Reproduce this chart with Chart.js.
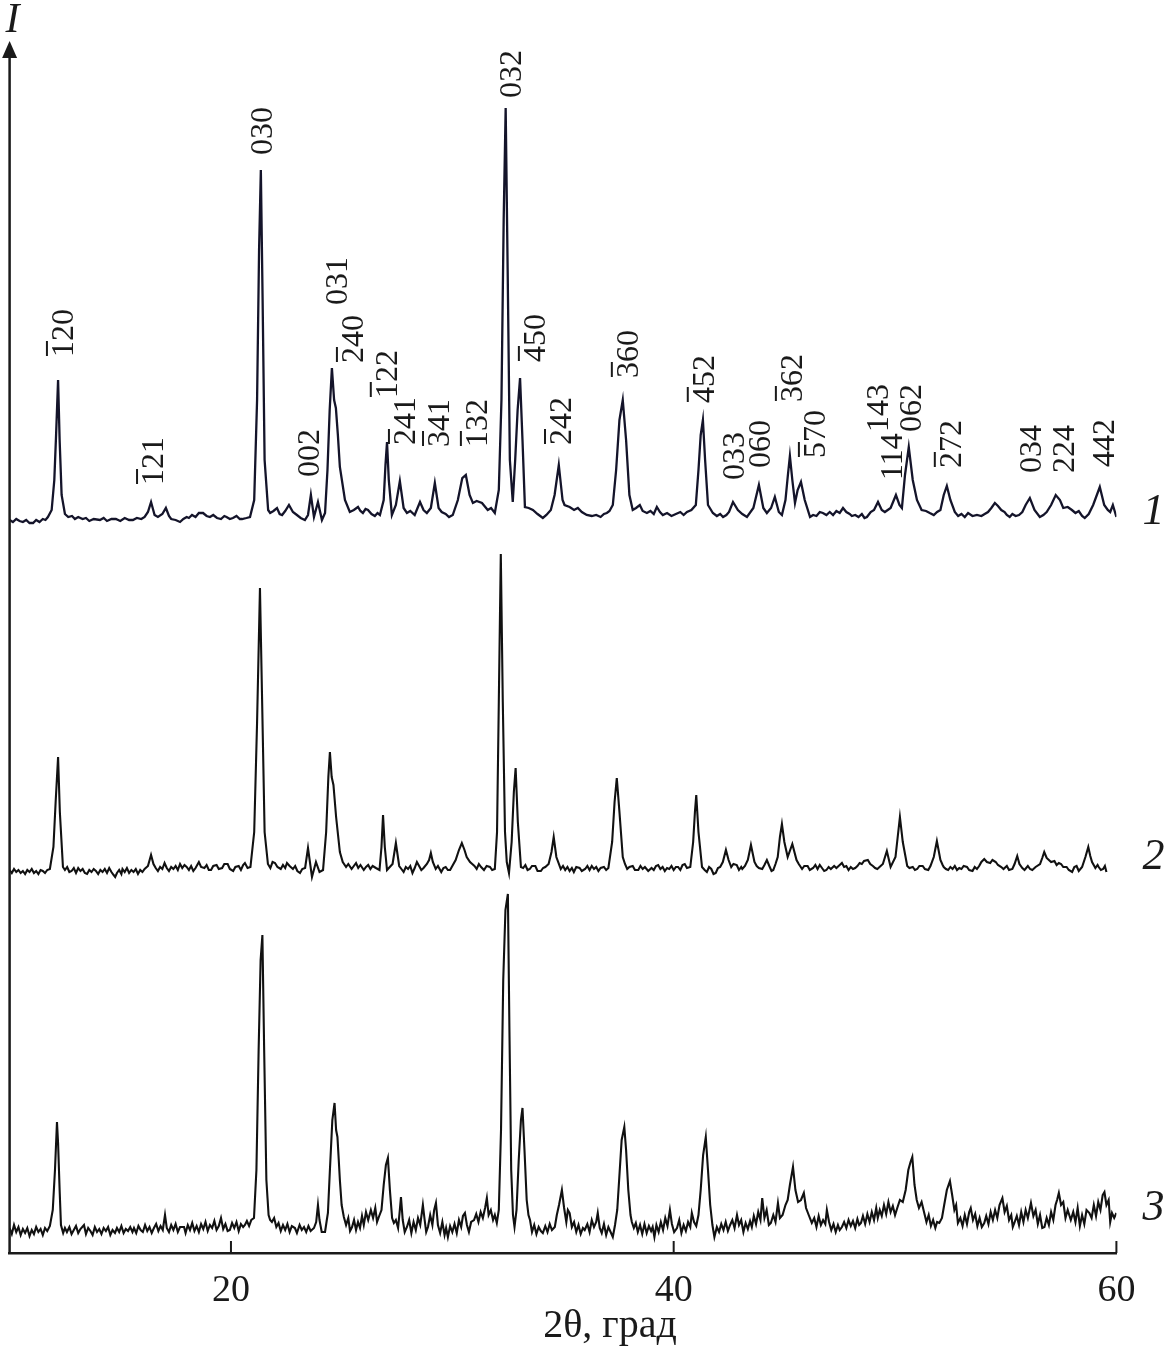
<!DOCTYPE html>
<html>
<head>
<meta charset="utf-8">
<script src="https://cdn.jsdelivr.net/npm/chart.js@4.4.1/dist/chart.umd.min.js"></script>
<style>
    html, body { margin: 0; padding: 0; background: #ffffff; }
    #caixa { width: 1170px; height: 1359px; position: relative; }
</style>
</head>
<body>
<div id="caixa"><canvas id="grafico"></canvas></div>
<script>

// eixo 2θ
const marcasX = [20, 40, 60];

// curva 1, [2θ, I]
const curva1 = [
    [10.00, 0], [10.15, -2], [10.3, 1], [10.45, -1], [10.6, -2], [10.75, 0], [10.9, -3], [11.06, -3], [11.2, 0], [11.35, -2],
    [11.5, 1], [11.62, 0], [11.73, 3], [11.90, 10], [12.02, 40], [12.10, 85], [12.19, 140], [12.26, 80], [12.35, 25], [12.50, 6],
    [12.65, 3], [12.82, 4], [12.95, 1], [13.1, 3], [13.3, 1], [13.45, 2], [13.6, -1], [13.8, 1], [14.08, 0], [14.25, 2],
    [14.4, -1], [14.6, 1], [14.8, 1], [15.0, -1], [15.2, 2], [15.4, 0], [15.57, 0], [15.75, 2], [15.95, 1], [16.1, 3],
    [16.25, 8], [16.39, 18], [16.55, 5], [16.70, 3], [16.9, 6], [17.06, 12], [17.2, 4], [17.3, 1], [17.5, 0], [17.70, -2],
    [17.85, 1], [18.0, 3], [18.1, 2], [18.24, 5], [18.4, 3], [18.55, 7], [18.74, 7], [18.9, 4], [19.05, 3], [19.2, 5],
    [19.37, 2], [19.55, 1], [19.7, 4], [19.8, 3], [19.95, 1], [20.09, 2], [20.25, 4], [20.4, 1], [20.5, 1], [20.7, 2],
    [20.86, 3], [21.05, 20], [21.18, 120], [21.27, 270], [21.35, 350], [21.43, 220], [21.52, 60], [21.68, 10], [21.77, 7], [21.92, 9],
    [22.08, 12], [22.2, 6], [22.31, 5], [22.45, 9], [22.62, 15], [22.8, 8], [22.98, 5], [23.15, 2], [23.34, 0], [23.48, 5],
    [23.61, 25], [23.75, 3], [23.93, 18], [24.11, 0], [24.25, 7], [24.36, 50], [24.46, 110], [24.56, 152], [24.66, 120], [24.74, 112],
    [24.83, 85], [24.92, 53], [25.15, 20], [25.37, 8], [25.55, 10], [25.74, 13], [25.85, 9], [25.96, 7], [26.08, 11], [26.19, 10],
    [26.35, 6], [26.5, 4], [26.62, 7], [26.73, 5], [26.90, 20], [26.98, 55], [27.05, 78], [27.13, 40], [27.27, 5], [27.45, 15],
    [27.63, 39], [27.80, 12], [27.95, 7], [28.1, 9], [28.3, 5], [28.54, 18], [28.7, 10], [28.85, 7], [29.03, 12], [29.21, 37],
    [29.38, 12], [29.52, 8], [29.7, 6], [29.85, 3], [30.02, 5], [30.25, 20], [30.45, 42], [30.61, 45], [30.78, 25], [30.93, 17],
    [31.1, 19], [31.34, 17], [31.6, 10], [31.75, 12], [31.92, 7], [32.10, 30], [32.22, 120], [32.32, 300], [32.41, 412], [32.50, 250],
    [32.60, 60], [32.73, 18], [32.84, 60], [32.95, 110], [33.06, 142], [33.17, 80], [33.28, 13], [33.45, 12], [33.64, 10], [33.85, 6],
    [34.09, 2], [34.25, 5], [34.45, 10], [34.62, 25], [34.81, 55], [34.98, 20], [35.07, 15], [35.30, 13], [35.5, 10], [35.67, 12],
    [35.85, 8], [36.07, 5], [36.3, 4], [36.5, 5], [36.7, 3], [36.85, 6], [36.98, 7], [37.1, 9], [37.25, 15], [37.40, 50],
    [37.55, 100], [37.70, 120], [37.85, 80], [38.00, 25], [38.15, 10], [38.3, 12], [38.47, 15], [38.6, 9], [38.79, 7], [38.95, 9],
    [39.1, 6], [39.24, 13], [39.38, 8], [39.51, 5], [39.7, 7], [39.9, 4], [40.1, 6], [40.3, 8], [40.45, 5], [40.60, 8],
    [40.8, 10], [41.00, 15], [41.12, 50], [41.22, 85], [41.32, 100], [41.42, 60], [41.55, 15], [41.77, 7], [41.95, 4], [42.1, 6],
    [42.23, 3], [42.38, 5], [42.5, 8], [42.68, 18], [42.9, 10], [43.1, 6], [43.31, 3], [43.6, 12], [43.85, 35], [44.05, 12],
    [44.21, 7], [44.4, 12], [44.57, 23], [44.75, 8], [44.89, 5], [45.05, 20], [45.16, 45], [45.25, 64], [45.36, 40], [45.48, 17],
    [45.60, 30], [45.75, 38], [45.92, 20], [46.16, 3], [46.3, 5], [46.45, 4], [46.6, 8], [46.74, 7], [46.9, 5], [47.05, 8],
    [47.2, 5], [47.35, 9], [47.5, 7], [47.65, 12], [47.8, 8], [47.95, 6], [48.05, 4], [48.2, 5], [48.35, 3], [48.5, 6],
    [48.62, 2], [48.73, 3], [48.9, 8], [49.05, 10], [49.23, 18], [49.4, 10], [49.54, 8], [49.8, 12], [50.04, 25], [50.20, 15],
    [50.31, 12], [50.45, 45], [50.62, 73], [50.80, 40], [50.99, 20], [51.2, 10], [51.4, 9], [51.57, 7], [51.75, 5], [51.9, 8],
    [52.05, 10], [52.20, 25], [52.34, 34], [52.50, 20], [52.70, 8], [52.85, 4], [53.0, 6], [53.15, 3], [53.3, 7], [53.5, 4],
    [53.70, 5], [53.9, 4], [54.05, 6], [54.2, 8], [54.35, 12], [54.51, 17], [54.65, 14], [54.8, 10], [54.95, 8], [55.05, 5],
    [55.18, 3], [55.3, 6], [55.45, 4], [55.6, 5], [55.75, 8], [55.90, 15], [56.09, 22], [56.30, 10], [56.54, 3], [56.7, 5],
    [56.85, 8], [57.05, 15], [57.26, 25], [57.45, 20], [57.6, 12], [57.8, 13], [57.99, 10], [58.15, 7], [58.3, 9], [58.45, 4],
    [58.57, 2], [58.75, 6], [58.95, 15], [59.25, 33], [59.45, 15], [59.61, 10], [59.72, 8], [59.84, 15], [60.0, 3]
];

// curva 2
const curva2 = [
    [10.0, 2], [10.1, -1], [10.2, 3], [10.3, 0], [10.4, 2], [10.5, -1], [10.6, 1], [10.7, -2], [10.8, 2], [10.9, 0],
    [11.0, 3], [11.1, -1], [11.2, 1], [11.3, -2], [11.4, 2], [11.5, 1], [11.6, -1], [11.7, 2], [11.82, 3], [11.98, 25],
    [12.08, 70], [12.19, 115], [12.27, 60], [12.41, 5], [12.5, 2], [12.6, 5], [12.7, 0], [12.8, 1], [12.9, 4], [13.0, -1],
    [13.1, 4], [13.2, 1], [13.3, 3], [13.4, -1], [13.5, -2], [13.6, 2], [13.7, 0], [13.8, 3], [13.9, 1], [14.0, -2],
    [14.1, 2], [14.2, 0], [14.3, 3], [14.4, -1], [14.5, 4], [14.6, 0], [14.7, -3], [14.77, -5], [14.85, -1], [14.95, 2],
    [15.05, -2], [15.1, 3], [15.2, 0], [15.3, 4], [15.4, -1], [15.5, 2], [15.6, 0], [15.7, 3], [15.8, -2], [15.9, 2],
    [16.0, 0], [16.1, 3], [16.25, 6], [16.39, 17], [16.5, 8], [16.6, 4], [16.7, 1], [16.8, 5], [16.9, 3], [17.0, 9],
    [17.1, 4], [17.2, 1], [17.3, 5], [17.4, 3], [17.5, 6], [17.6, 2], [17.7, 8], [17.8, 4], [17.9, 7], [18.0, 5],
    [18.1, 2], [18.2, 6], [18.3, 1], [18.4, 4], [18.55, 10], [18.65, 5], [18.8, 4], [18.9, 7], [19.0, 2], [19.1, 2],
    [19.2, 6], [19.35, 7], [19.45, 3], [19.6, 4], [19.7, 8], [19.85, 8], [19.95, 3], [20.1, 1], [20.2, 5], [20.35, 6],
    [20.45, 2], [20.55, 7], [20.63, 9], [20.75, 4], [20.88, 5], [21.05, 40], [21.18, 150], [21.31, 284], [21.40, 180], [21.52, 40],
    [21.67, 8], [21.78, 4], [21.88, 10], [21.99, 9], [22.1, 5], [22.25, 3], [22.35, 7], [22.45, 4], [22.53, 9], [22.65, 6],
    [22.8, 3], [22.9, 6], [23.0, 1], [23.12, -1], [23.22, 3], [23.35, 4], [23.48, 24], [23.66, -5], [23.84, 10], [24.0, 0],
    [24.16, 2], [24.30, 40], [24.40, 95], [24.47, 120], [24.55, 95], [24.63, 87], [24.75, 55], [24.92, 20], [25.05, 10], [25.2, 5],
    [25.3, 8], [25.45, 3], [25.55, 6], [25.65, 9], [25.75, 4], [25.85, 7], [26.0, 2], [26.1, 5], [26.2, 7], [26.3, 3],
    [26.4, 6], [26.55, 4], [26.71, 2], [26.80, 25], [26.87, 57], [26.95, 25], [27.05, 2], [27.30, 8], [27.45, 29], [27.60, 6],
    [27.7, 3], [27.8, 0], [27.9, 5], [28.0, 3], [28.1, 6], [28.2, -1], [28.3, 4], [28.40, 10], [28.5, 6], [28.6, 2],
    [28.7, 4], [28.85, 8], [28.95, 12], [29.03, 19], [29.12, 10], [29.25, 3], [29.35, 6], [29.5, 0], [29.6, 4], [29.7, 5],
    [29.8, 2], [29.9, 2], [30.0, 6], [30.15, 12], [30.3, 22], [30.43, 29], [30.55, 22], [30.65, 15], [30.8, 10], [30.9, 8],
    [31.0, 6], [31.1, 3], [31.2, 8], [31.3, 5], [31.43, 2], [31.55, 6], [31.7, 5], [31.8, 2], [31.92, 3], [32.02, 40],
    [32.10, 170], [32.19, 318], [32.28, 170], [32.38, 40], [32.46, 10], [32.56, -1], [32.68, 30], [32.78, 80], [32.86, 104], [32.96, 50],
    [33.10, 5], [33.2, 4], [33.3, 7], [33.4, 2], [33.5, 3], [33.6, 6], [33.75, 6], [33.85, 1], [34.0, 1], [34.1, 4],
    [34.2, 5], [34.35, 8], [34.48, 20], [34.58, 35], [34.70, 15], [34.9, 3], [35.0, 6], [35.1, 2], [35.2, 5], [35.3, 1],
    [35.4, 4], [35.49, 0], [35.6, 5], [35.75, 4], [35.85, 1], [36.0, 3], [36.1, 6], [36.2, 2], [36.3, 6], [36.4, 3],
    [36.5, 5], [36.6, 1], [36.7, 4], [36.85, 5], [36.95, 2], [37.05, 4], [37.22, 30], [37.33, 70], [37.43, 94], [37.55, 60],
    [37.70, 15], [37.8, 8], [37.9, 3], [38.0, 5], [38.15, 6], [38.25, 2], [38.4, 2], [38.5, 6], [38.6, 3], [38.7, 5],
    [38.85, 1], [39.0, 4], [39.1, 2], [39.2, 6], [39.3, 7], [39.4, 3], [39.5, 5], [39.6, 1], [39.7, 4], [39.8, 3],
    [39.9, 6], [40.0, 2], [40.1, 5], [40.2, 5], [40.3, 2], [40.4, 7], [40.5, 8], [40.6, 4], [40.75, 5], [40.88, 30],
    [40.96, 60], [41.02, 77], [41.12, 40], [41.28, 5], [41.4, 2], [41.5, 0], [41.6, 5], [41.7, 3], [41.8, -2], [41.9, -1],
    [42.0, 4], [42.1, 5], [42.22, 10], [42.36, 22], [42.48, 12], [42.6, 5], [42.7, 8], [42.85, 7], [42.95, 2], [43.05, 5],
    [43.1, 3], [43.22, 6], [43.35, 12], [43.49, 27], [43.65, 10], [43.75, 6], [43.85, 4], [44.0, 3], [44.1, 7], [44.21, 12],
    [44.32, 6], [44.42, 1], [44.5, 2], [44.6, 8], [44.70, 15], [44.80, 35], [44.89, 48], [45.0, 30], [45.15, 15], [45.36, 28],
    [45.55, 12], [45.65, 8], [45.8, 3], [45.9, 6], [46.05, 6], [46.15, 2], [46.3, 4], [46.4, 7], [46.5, 3], [46.6, 7],
    [46.7, 4], [46.8, 1], [46.9, 2], [47.0, 5], [47.1, 3], [47.25, 6], [47.35, 4], [47.5, 7], [47.60, 9], [47.7, 5],
    [47.8, 6], [47.9, 2], [48.0, 5], [48.1, 3], [48.2, 4], [48.3, 6], [48.4, 9], [48.5, 8], [48.6, 11], [48.77, 12],
    [48.88, 8], [49.0, 6], [49.1, 4], [49.2, 3], [49.3, 5], [49.45, 8], [49.63, 21], [49.8, 5], [50.02, 15], [50.12, 35],
    [50.22, 55], [50.35, 30], [50.55, 6], [50.65, 4], [50.8, 5], [50.9, 2], [51.0, 3], [51.1, 6], [51.25, 6], [51.35, 3],
    [51.5, 2], [51.6, 6], [51.75, 15], [51.89, 31], [52.05, 12], [52.15, 7], [52.2, 5], [52.3, 3], [52.4, 2], [52.5, 5],
    [52.6, 3], [52.7, 6], [52.8, 2], [52.9, 4], [53.0, 3], [53.1, 6], [53.25, 5], [53.35, 2], [53.5, 1], [53.6, 5],
    [53.7, 3], [53.8, 6], [53.9, 10], [54.03, 13], [54.15, 10], [54.3, 9], [54.4, 12], [54.55, 10], [54.65, 7], [54.8, 5],
    [54.9, 3], [55.05, 6], [55.15, 2], [55.3, 3], [55.4, 8], [55.52, 16], [55.62, 8], [55.75, 4], [55.85, 2], [56.0, 6],
    [56.1, 3], [56.2, 2], [56.35, 5], [56.55, 8], [56.65, 14], [56.74, 20], [56.85, 14], [56.95, 12], [57.05, 10], [57.2, 11],
    [57.3, 7], [57.4, 9], [57.5, 8], [57.6, 5], [57.75, 5], [57.85, 2], [58.0, 0], [58.1, 5], [58.2, 6], [58.3, 1],
    [58.45, 5], [58.60, 15], [58.73, 25], [58.82, 16], [58.90, 10], [59.0, 6], [59.05, 4], [59.15, 7], [59.2, 5], [59.3, 2],
    [59.4, 3], [59.48, 6], [59.55, 0]
];

// curva 3
const curva3 = [
    [10.0, 2], [10.1, -4], [10.2, 5], [10.3, -2], [10.4, 3], [10.5, -5], [10.6, 1], [10.7, -3], [10.8, 2], [10.9, -6],
    [11.0, 0], [11.1, -4], [11.2, 3], [11.3, -2], [11.4, 1], [11.5, -5], [11.6, 2], [11.7, -1], [11.82, 4], [11.95, 20],
    [12.05, 60], [12.14, 108], [12.19, 87], [12.26, 40], [12.32, 5], [12.42, -3], [12.5, 2], [12.59, -2], [12.7, 3], [12.8, -4],
    [12.9, 0], [13.0, 4], [13.1, -3], [13.2, 1], [13.36, 5], [13.45, -4], [13.55, 2], [13.65, -1], [13.75, -5], [13.85, 3],
    [13.95, -2], [14.05, 1], [14.15, -4], [14.25, 2], [14.35, -1], [14.45, 3], [14.55, -5], [14.65, 0], [14.76, -3], [14.85, 2],
    [14.95, -2], [15.05, 4], [15.15, -3], [15.25, 1], [15.35, -1], [15.45, 3], [15.55, -2], [15.62, 2], [15.72, -3], [15.82, 4],
    [15.92, 0], [16.02, -2], [16.12, 5], [16.22, -1], [16.32, 3], [16.42, -3], [16.52, 2], [16.62, 6], [16.72, -1], [16.82, 4],
    [16.92, 0], [17.02, 15], [17.1, 2], [17.2, -2], [17.3, 5], [17.4, 0], [17.5, 6], [17.6, -2], [17.7, 3], [17.88, 3],
    [17.95, -3], [18.05, 5], [18.15, 0], [18.25, 7], [18.35, -1], [18.45, 4], [18.55, -2], [18.65, 6], [18.75, 1], [18.85, 8],
    [18.95, -1], [19.05, 5], [19.15, 2], [19.25, 9], [19.35, 0], [19.45, 4], [19.55, 12], [19.65, 1], [19.75, 6], [19.85, -1],
    [19.95, 0], [20.05, 7], [20.15, 2], [20.25, 8], [20.35, -1], [20.45, 6], [20.55, 3], [20.63, 5], [20.72, 9], [20.82, 4],
    [20.92, 10], [21.04, 12], [21.15, 60], [21.25, 180], [21.34, 270], [21.42, 295], [21.50, 180], [21.60, 50], [21.70, 15], [21.77, 10],
    [21.85, 8], [21.95, 12], [22.05, 3], [22.15, 7], [22.25, -1], [22.35, 5], [22.45, 0], [22.55, 6], [22.65, -2], [22.75, 4],
    [22.89, 2], [22.98, -3], [23.1, 5], [23.2, 0], [23.3, 3], [23.4, -2], [23.5, 4], [23.6, -1], [23.75, 2], [23.85, 8],
    [23.93, 25], [24.0, 10], [24.1, -2], [24.25, -2], [24.33, 10], [24.38, 17], [24.47, 60], [24.58, 110], [24.68, 127], [24.75, 100],
    [24.81, 93], [24.87, 70], [24.92, 50], [25.0, 25], [25.10, 13], [25.2, 5], [25.3, 12], [25.38, -1], [25.47, 3], [25.56, 10],
    [25.65, 0], [25.74, 8], [25.83, 2], [25.92, 14], [26.0, 5], [26.1, 18], [26.2, 10], [26.32, 20], [26.42, 12], [26.52, 22],
    [26.6, 8], [26.68, 13], [26.8, 20], [26.9, 45], [27.0, 65], [27.09, 72], [27.18, 40], [27.28, 12], [27.36, 7], [27.45, 10],
    [27.55, 2], [27.62, 18], [27.68, 33], [27.76, 10], [27.85, -2], [27.95, 3], [28.05, 10], [28.15, -3], [28.25, 8], [28.35, 0],
    [28.45, 12], [28.55, 5], [28.67, 25], [28.75, 10], [28.82, -2], [28.90, 3], [29.0, 15], [29.1, 5], [29.18, 20], [29.26, 27],
    [29.35, 5], [29.45, -3], [29.55, 8], [29.65, -5], [29.72, 2], [29.80, -7], [29.9, 4], [30.0, -2], [30.1, 6], [30.2, -3],
    [30.3, 10], [30.4, 3], [30.48, 14], [30.57, 17], [30.66, 5], [30.75, -2], [30.85, 8], [30.98, 10], [31.08, 16], [31.18, 8],
    [31.28, 18], [31.38, 12], [31.48, 22], [31.56, 32], [31.64, 15], [31.74, 20], [31.84, 10], [31.92, 15], [32.01, 7], [32.10, 20],
    [32.20, 100], [32.30, 250], [32.40, 320], [32.51, 336], [32.58, 200], [32.66, 60], [32.74, 15], [32.81, 3], [32.90, 20], [33.00, 70],
    [33.10, 110], [33.17, 122], [33.26, 80], [33.36, 30], [33.44, 15], [33.51, 10], [33.6, -2], [33.7, 5], [33.8, -4], [33.9, 3],
    [34.0, -1], [34.09, -3], [34.2, 4], [34.3, -2], [34.4, 6], [34.5, 0], [34.63, 3], [34.72, 15], [34.82, 25], [34.95, 40],
    [35.05, 22], [35.15, 8], [35.22, 20], [35.30, 17], [35.4, 3], [35.5, 8], [35.6, -2], [35.7, 5], [35.8, -4], [35.9, 2],
    [35.98, 0], [36.1, 6], [36.2, -2], [36.3, 10], [36.4, 3], [36.5, 8], [36.57, 17], [36.66, 2], [36.75, -3], [36.85, 6],
    [36.95, -5], [37.05, 3], [37.15, -2], [37.25, -7], [37.35, 5], [37.45, 20], [37.55, 55], [37.65, 90], [37.77, 103], [37.85, 80],
    [37.95, 40], [38.05, 15], [38.11, 8], [38.2, 2], [38.29, 7], [38.38, -2], [38.48, 5], [38.58, -4], [38.68, 6], [38.78, -3],
    [38.88, 4], [38.98, -1], [39.05, 3], [39.13, -7], [39.22, 5], [39.32, -2], [39.42, 8], [39.52, 0], [39.62, 12], [39.72, 4],
    [39.83, 20], [39.92, 6], [40.02, -2], [40.15, 2], [40.25, 10], [40.35, -3], [40.45, 5], [40.55, -1], [40.65, 8], [40.75, 3],
    [40.82, 17], [40.92, 8], [41.02, 4], [41.12, 15], [41.22, 40], [41.33, 75], [41.45, 93], [41.55, 60], [41.65, 25], [41.75, 5],
    [41.84, -7], [41.95, 3], [42.05, -2], [42.15, 6], [42.25, 0], [42.35, 8], [42.45, -1], [42.55, 5], [42.65, 10], [42.75, 2],
    [42.86, 15], [42.95, 5], [43.05, 10], [43.15, -2], [43.25, 7], [43.35, 1], [43.45, 9], [43.53, 3], [43.62, 14], [43.72, 6],
    [43.82, 18], [43.92, 10], [44.0, 32], [44.1, 12], [44.2, 20], [44.3, 5], [44.39, 7], [44.5, 15], [44.6, 8], [44.71, 27],
    [44.8, 12], [44.92, 15], [45.05, 25], [45.15, 30], [45.25, 45], [45.39, 63], [45.5, 40], [45.62, 28], [45.75, 30], [45.88, 37],
    [45.98, 22], [46.1, 15], [46.24, 7], [46.35, 12], [46.45, 3], [46.55, 14], [46.65, 5], [46.75, 10], [46.85, 6], [46.92, 20],
    [47.02, 8], [47.12, 0], [47.22, 6], [47.32, -2], [47.42, 5], [47.5, 0], [47.60, 3], [47.7, 8], [47.8, 2], [47.9, 10],
    [48.0, 4], [48.1, 9], [48.2, 2], [48.3, 11], [48.38, 5], [48.46, 7], [48.55, 14], [48.65, 6], [48.75, 16], [48.85, 8],
    [48.95, 18], [49.05, 10], [49.15, 22], [49.22, 12], [49.31, 20], [49.4, 14], [49.5, 25], [49.6, 16], [49.7, 28], [49.8, 18],
    [49.9, 24], [50.0, 15], [50.1, 22], [50.22, 30], [50.35, 28], [50.48, 40], [50.6, 60], [50.70, 68], [50.78, 73], [50.88, 45],
    [50.98, 30], [51.08, 22], [51.2, 28], [51.32, 17], [51.42, 8], [51.52, 15], [51.62, 4], [51.72, 10], [51.82, 2], [51.9, 8],
    [52.0, 7], [52.12, 12], [52.22, 25], [52.34, 40], [52.48, 49], [52.58, 35], [52.68, 20], [52.76, 25], [52.84, 7], [52.95, 12],
    [53.05, 4], [53.15, 15], [53.25, 6], [53.35, 18], [53.42, 22], [53.52, 10], [53.62, 16], [53.72, 4], [53.82, 12], [53.92, 3],
    [54.03, 7], [54.12, 14], [54.22, 6], [54.32, 18], [54.42, 10], [54.52, 20], [54.62, 12], [54.72, 25], [54.85, 32], [54.95, 18],
    [55.05, 24], [55.15, 10], [55.25, 15], [55.32, 3], [55.39, 7], [55.5, 14], [55.6, 5], [55.7, 18], [55.8, 8], [55.9, 20],
    [56.0, 12], [56.14, 27], [56.25, 14], [56.35, 20], [56.45, 6], [56.55, 15], [56.65, 2], [56.75, 3], [56.85, 12], [56.95, 5],
    [57.05, 18], [57.15, 10], [57.25, 25], [57.32, 30], [57.40, 37], [57.5, 25], [57.6, 28], [57.7, 12], [57.8, 20], [57.94, 10],
    [58.05, 18], [58.15, 8], [58.25, 22], [58.35, 4], [58.45, 15], [58.55, 6], [58.65, 20], [58.78, 17], [58.88, 12], [58.98, 25],
    [59.08, 14], [59.18, 28], [59.28, 20], [59.38, 35], [59.46, 38], [59.55, 25], [59.65, 30], [59.72, 8], [59.80, 17], [59.9, 12],
    [60.0, 17]
];

// deslocamento vertical de cada curva
const deslocamentos = [733, 381, 23];
const nomesCurvas = ['1', '2', '3'];
const alturaNomes = [8, 15, 22];

// indices hkl sobre a curva 1 (altura medida a partir da linha de base da curva 1)
const rotulosHkl = ['120', '121', '030', '002', '031', '240', '122', '241', '341', '132', '032', '450', '242',
    '360', '452', '033', '060', '362', '570', '143', '114', '062', '272', '034', '224', '442'];
const rotulosTheta = [12.50, 16.57, 21.49, 23.61, 24.84, 25.60, 27.13, 27.95, 29.49, 31.20, 32.74, 33.82, 35.00,
    38.02, 41.45, 42.81, 43.98, 45.43, 46.47, 49.31, 49.95, 50.80, 52.61, 56.22, 57.71, 59.52];
const rotulosAltura = [163, 35, 365, 43, 215, 157, 122, 75, 73, 73, 422, 158, 75,
    142, 117, 40, 52, 118, 62, 88, 40, 88, 52, 47, 47, 53];
const rotulosBarra = [1, 1, 0, 0, 0, 1, 1, 1, 1, 1, 0, 1, 1,
    1, 1, 0, 0, 1, 1, 0, 0, 0, 1, 0, 0, 0];

const corTexto = '#1a1a1a';
const fonteSerif = '"Liberation Serif", "DejaVu Serif", serif';

function montarDataset(curva, deslocamento, cor, largura) {
    var pontos = [];
    for (var i = 0; i < curva.length; i++) {
        pontos.push({ x: curva[i][0], y: curva[i][1] + deslocamento });
    }
    return {
        data: pontos,
        borderColor: cor,
        borderWidth: largura,
        pointRadius: 0,
        tension: 0,
        fill: false
    };
}

const decoracao = {
    id: 'decoracao',
    afterDraw(chart) {
        const ctx = chart.ctx;
        const area = chart.chartArea;
        const eixoX = chart.scales.x;
        const eixoY = chart.scales.y;

        ctx.save();
        ctx.strokeStyle = corTexto;
        ctx.fillStyle = corTexto;

        // eixo I com seta
        ctx.lineWidth = 2.5;
        ctx.beginPath();
        ctx.moveTo(area.left, area.bottom);
        ctx.lineTo(area.left, area.top + 14);
        ctx.stroke();
        ctx.beginPath();
        ctx.moveTo(area.left, area.top);
        ctx.lineTo(area.left - 7.5, area.top + 17);
        ctx.lineTo(area.left + 7.5, area.top + 17);
        ctx.closePath();
        ctx.fill();

        // marcas do eixo 2θ, para dentro
        ctx.lineWidth = 2;
        marcasX.forEach(function (v) {
            var px = eixoX.getPixelForValue(v);
            ctx.beginPath();
            ctx.moveTo(px, area.bottom);
            ctx.lineTo(px, area.bottom - 12);
            ctx.stroke();
        });

        ctx.textAlign = 'center';
        ctx.textBaseline = 'middle';
        ctx.font = 'italic 42px ' + fonteSerif;
        ctx.fillText('I', area.left + 3, 21);

        ctx.font = '40px ' + fonteSerif;
        ctx.fillText('2θ, град', 610, 1326);

        // numeros das curvas
        ctx.font = 'italic 44px ' + fonteSerif;
        for (var c = 0; c < nomesCurvas.length; c++) {
            var yc = eixoY.getPixelForValue(deslocamentos[c] + alturaNomes[c]);
            ctx.fillText(nomesCurvas[c], area.right + 37, yc);
        }

        // indices hkl
        ctx.font = '32px ' + fonteSerif;
        ctx.textAlign = 'left';
        ctx.lineWidth = 2;
        for (var i = 0; i < rotulosHkl.length; i++) {
            var px = eixoX.getPixelForValue(rotulosTheta[i]);
            var py = eixoY.getPixelForValue(rotulosAltura[i] + deslocamentos[0]);
            ctx.save();
            ctx.translate(px, py);
            ctx.rotate(-Math.PI / 2);
            ctx.fillText(rotulosHkl[i], 0, 0);
            ctx.restore();
            if (rotulosBarra[i]) {
                ctx.beginPath();
                ctx.moveTo(px - 18, py - 1);
                ctx.lineTo(px - 18, py - 16);
                ctx.stroke();
            }
        }
        ctx.restore();
    }
};

let grafico = new Chart(
    document.getElementById('grafico'), {
    type: 'line',
    data: {
        datasets: [
            montarDataset(curva1, deslocamentos[0], '#14142a', 2.3),
            montarDataset(curva2, deslocamentos[1], '#111111', 2.1),
            montarDataset(curva3, deslocamentos[2], '#111111', 2.1)
        ]
    },
    options: {
        responsive: true,
        maintainAspectRatio: false,
        animation: false,
        events: [],
        layout: {
            padding: { left: 9.6, right: 53.6, top: 41, bottom: 0 }
        },
        scales: {
            x: {
                type: 'linear',
                min: 10,
                max: 60,
                afterBuildTicks: function (eixo) {
                    eixo.ticks = marcasX.map(function (v) { return { value: v }; });
                },
                afterFit: function (eixo) {
                    eixo.height = 106;
                    eixo.paddingLeft = 0;
                    eixo.paddingRight = 0;
                },
                ticks: {
                    color: corTexto,
                    font: { family: fonteSerif, size: 38 },
                    padding: 15,
                    maxRotation: 0,
                    autoSkip: false
                },
                grid: { display: true, drawOnChartArea: false, drawTicks: false },
                border: { display: true, color: corTexto, width: 2.5 }
            },
            y: {
                display: false,
                min: 0,
                max: 1212
            }
        },
        plugins: {
            legend: { display: false },
            tooltip: { enabled: false },
            title: { display: false }
        }
    },
    plugins: [decoracao]
});
</script>
</body>
</html>
